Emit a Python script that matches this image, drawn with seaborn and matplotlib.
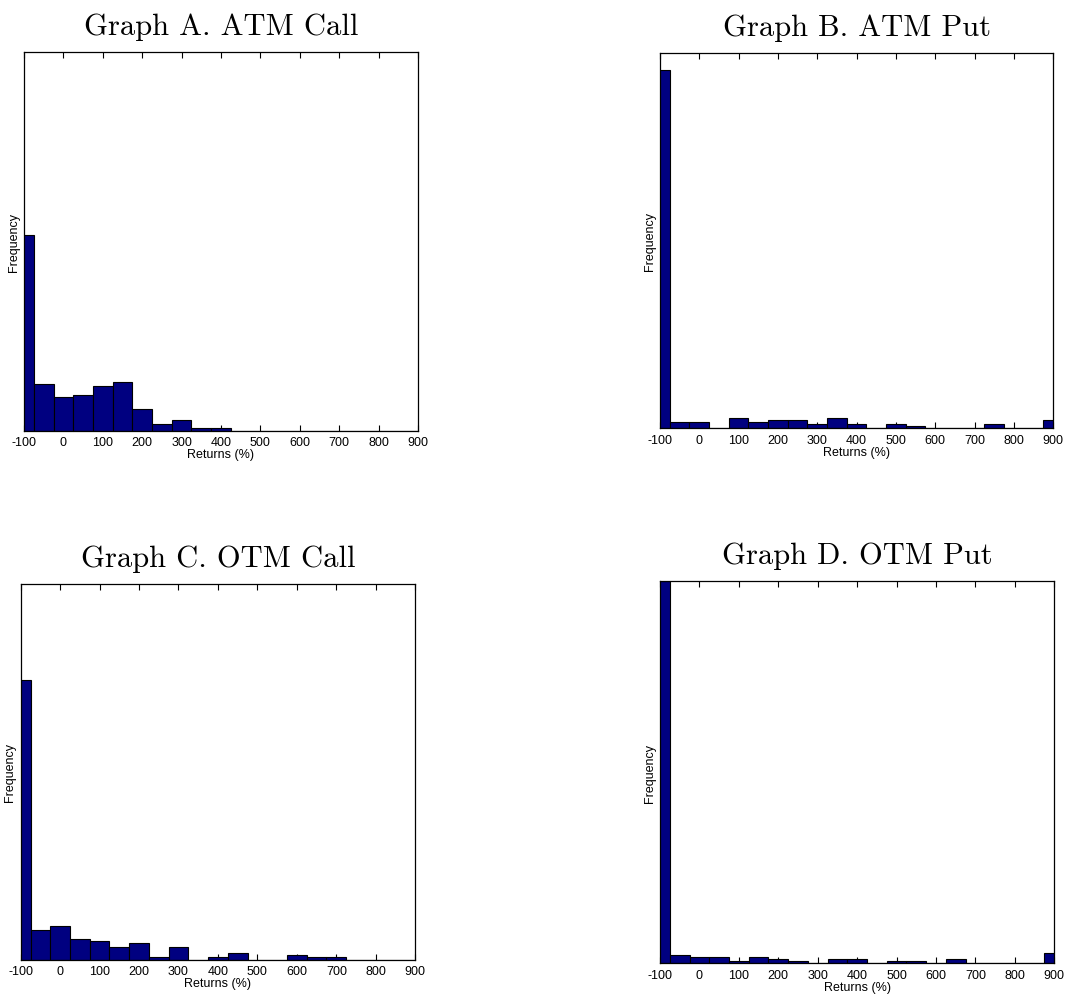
import numpy as np
import pandas as pd
import matplotlib
matplotlib.use("Agg")
import matplotlib.pyplot as plt
import seaborn as sns

# Bin centres (MATLAB-style hist, centres -100:50:900)
centers = [-100, -50, 0, 50, 100, 150, 200, 250, 300, 350, 400,
           450, 500, 550, 600, 650, 700, 750, 800, 850, 900]
xticks = [-100, 0, 100, 200, 300, 400, 500, 600, 700, 800, 900]
xtick_labels = ["-100", "0", "100", "200", "300", "400", "500", "600", "700", "800", "900"]

# Relative frequencies
atm_call = [588, 139, 101, 108, 133, 145, 65, 19, 32, 7, 7,
            0, 0, 0, 0, 0, 0, 0, 0, 0, 0]
atm_put = [1074, 18, 18, 0, 31, 18, 25, 25, 12, 31, 12,
           0, 12, 6, 0, 0, 0, 12, 0, 0, 25]
otm_call = [839, 89, 101, 63, 57, 38, 50, 7, 38, 0, 7,
            19, 0, 0, 13, 7, 7, 0, 0, 0, 0]
otm_put = [1146, 26, 19, 19, 6, 19, 13, 6, 0, 13, 13,
           0, 6, 6, 0, 13, 0, 0, 0, 0, 32]
ytops = [1137, 1125, 1127, 1146]

titles = ["Graph A. ATM Call", "Graph B. ATM Put", "Graph C. OTM Call", "Graph D. OTM Put"]
series = [atm_call, atm_put, otm_call, otm_put]

sns.set_style("white")
plt.rcParams["font.family"] = ["Liberation Sans", "DejaVu Sans"]
plt.rcParams["text.color"] = "black"
plt.rcParams["axes.labelcolor"] = "black"

fig = plt.figure(figsize=(10.70, 10.04), dpi=100)
positions = [
    [0.0224, 0.570, 0.3682, 0.3775],
    [0.6168, 0.5724, 0.3676, 0.3735],
    [0.0193, 0.0431, 0.3688, 0.3742],
    [0.6168, 0.0395, 0.3685, 0.3805],
]

for pos, title, vals, ytop in zip(positions, titles, series, ytops):
    ax = fig.add_axes(pos)
    df = pd.DataFrame({"x": centers, "w": vals})
    sns.histplot(data=df, x="x", weights="w", binwidth=50, binrange=(-125, 925),
                 ax=ax, color="#000080", alpha=1.0, edgecolor="black",
                 linewidth=0.8)
    ax.set_xlim(-100, 900)
    ax.set_ylim(0, ytop)
    ax.set_xticks(xticks)
    ax.set_xticklabels(xtick_labels, fontsize=9)
    ax.set_yticks([])
    ax.tick_params(axis="x", direction="in", length=4, width=0.8, top=True,
                   bottom=True, pad=4, colors="black")
    for s in ax.spines.values():
        s.set_visible(True)
        s.set_color("black")
        s.set_linewidth(0.9)
    ax.set_xlabel("Returns (%)", fontsize=9, labelpad=0, color="black")
    ax.set_ylabel("Frequency", fontsize=9, labelpad=3, color="black")
    ax.set_title(title, fontsize=22, family="cmr10", pad=13, color="black")

fig.savefig("out.png", dpi=100, facecolor="white")
